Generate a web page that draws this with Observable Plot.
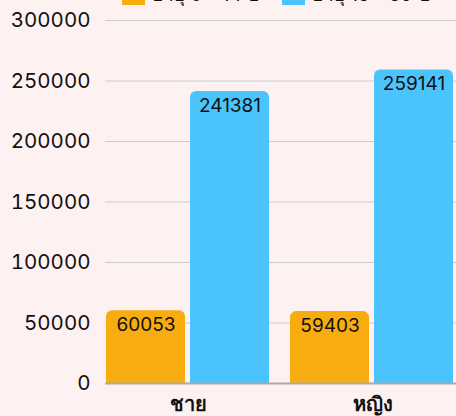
<!DOCTYPE html>
<html>
<head>
<meta charset="utf-8">
<script src="https://cdn.jsdelivr.net/npm/d3@7"></script>
<script src="https://cdn.jsdelivr.net/npm/@observablehq/plot@0.6"></script>
<style>
  html, body { margin: 0; padding: 0; background: #fdf2f1; overflow: hidden; width: 456px; height: 416px; }
  #wrap { position: relative; width: 456px; height: 416px; overflow: hidden; font-family: Inter, "Noto Sans", sans-serif; }
  #legend { position: absolute; top: 0; left: 0; width: 456px; height: 20px; font-size: 19px; color: #111; white-space: nowrap; }
  .sw { position: absolute; top: -9px; width: 23px; height: 14px; }
  .lt { position: absolute; top: -15px; line-height: 19px; }
  #chart { position: absolute; top: 0; left: 0; width: 473px; }
  #chart svg { max-width: none !important; width: 473px; height: 416px; }
</style>
</head>
<body>
<div id="wrap">
  <div id="chart"></div>
  <div id="legend"></div>
</div>
<script>
const genders = ["ชาย", "หญิง"];
const series = ["อายุ 0 - 14 ปี", "อายุ 15 - 59 ปี"];
const colors = ["#f8ac0f", "#4bc4fe"];
const age0to14 = [60053, 59403];
const age15to59 = [241381, 259141];
const yTicks = [0, 50000, 100000, 150000, 200000, 250000, 300000];

const data = [];
genders.forEach((g, i) => {
  data.push({gender: g, series: series[0], value: age0to14[i]});
  data.push({gender: g, series: series[1], value: age15to59[i]});
});

const leg = document.getElementById("legend");
series.forEach((s, i) => {
  const left = 122 + i * 160;
  leg.insertAdjacentHTML("beforeend",
    `<span class="sw" style="left:${left}px;background:${colors[i]}"></span>` +
    `<span class="lt" style="left:${left + 30}px">${s}</span>`);
});

const chart = Plot.plot({
  width: 473,
  height: 416,
  marginLeft: 105,
  marginRight: 0,
  marginTop: 20,
  marginBottom: 33,
  style: {background: "transparent", fontFamily: "Inter, 'Noto Sans', sans-serif", fontSize: "19px", color: "#111", maxWidth: "none"},
  fx: {domain: genders, padding: 0, label: null},
  x: {domain: series, paddingInner: 0.0588, paddingOuter: 0.1118, align: 0.053, axis: null},
  y: {domain: [0, 300000], ticks: yTicks, label: null, tickFormat: d => String(d), tickSize: 0, tickPadding: 15},
  color: {domain: series, range: colors},
  marks: [
    Plot.ruleY(yTicks.slice(1), {stroke: "#cccccc", strokeWidth: 1}),
    Plot.barY(data, {fx: "gender", x: "series", y: "value", fill: "series", rx: 6}),
    Plot.barY(data, {fx: "gender", x: "series", y1: 0, y2: d => d.value * 0.9, fill: "series"}),
    Plot.ruleY([0], {stroke: "#aaaaaa", strokeWidth: 2}),
    Plot.text(data, {fx: "gender", x: "series", y: "value", text: d => String(d.value), dy: 14, fill: "#111", fontSize: 19}),
    Plot.axisFx({anchor: "bottom", tickSize: 0, tickPadding: 13, fontSize: 20, fontWeight: "bold", dx: -9, label: null}),
    Plot.axisY({ticks: yTicks, tickFormat: d => String(d), tickSize: 0, tickPadding: 15, fontSize: 20.5, label: null})
  ]
});
document.getElementById("chart").appendChild(chart);
</script>
</body>
</html>
